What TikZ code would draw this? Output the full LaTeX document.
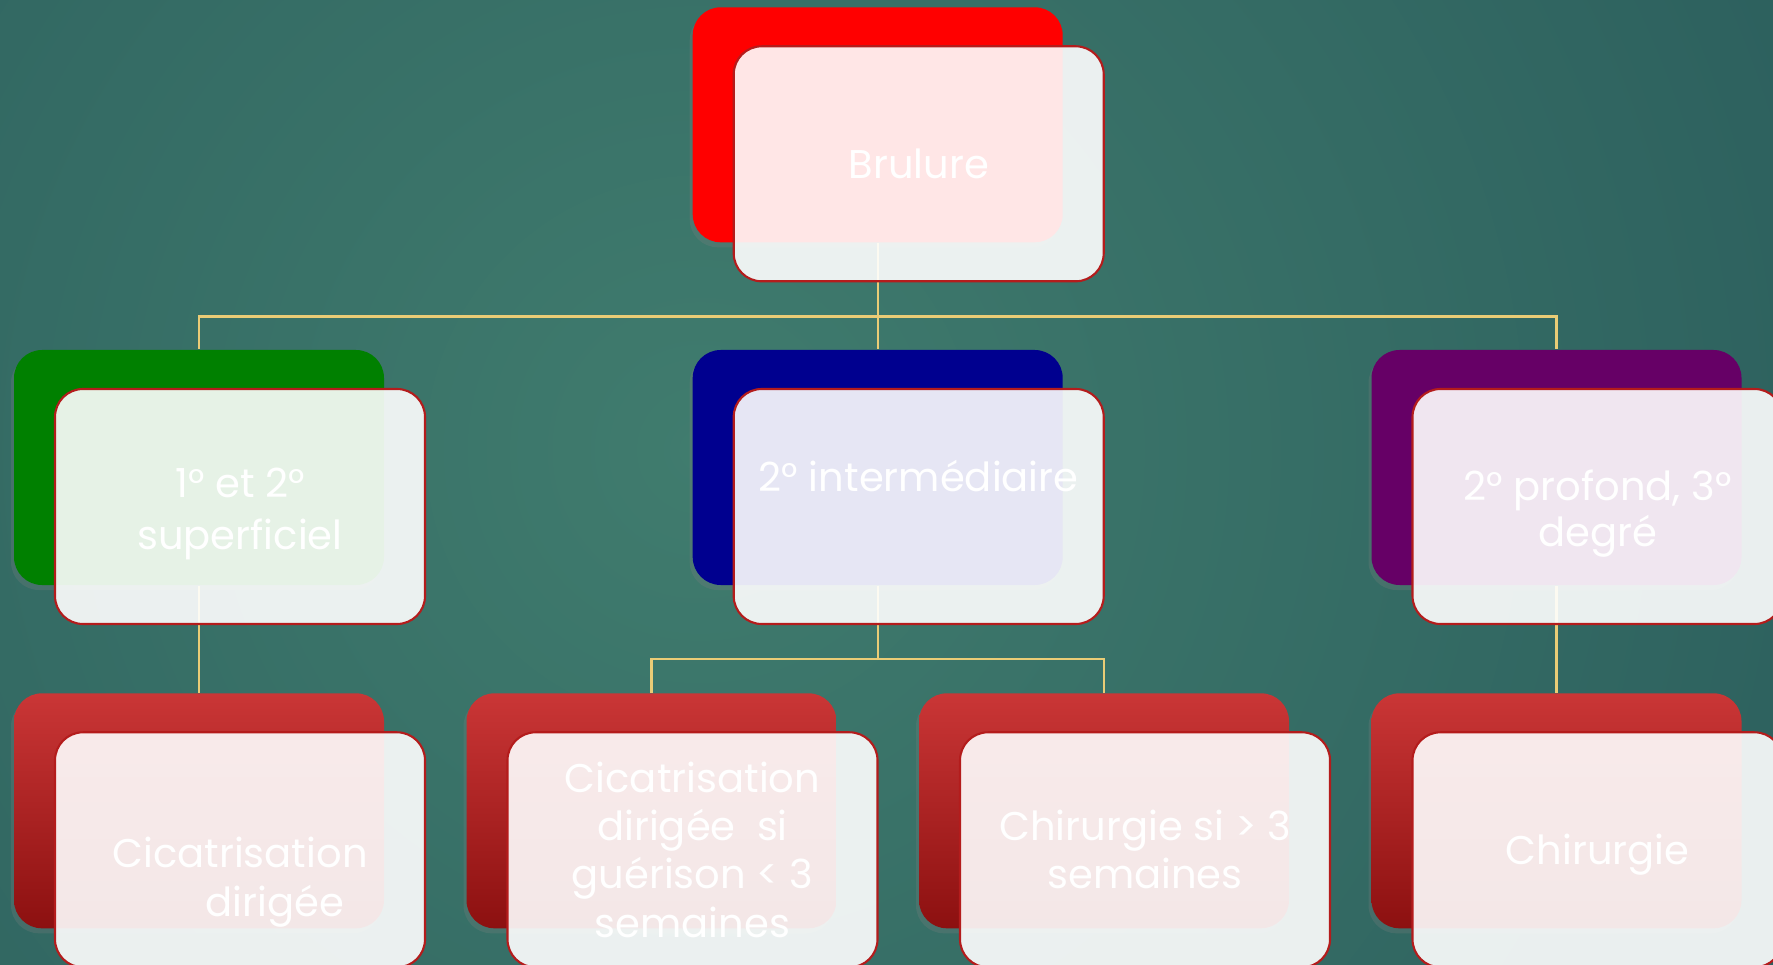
\documentclass[tikz,border=0pt]{standalone}
\usepackage{fontspec}
\setmainfont{Poppins}
\usetikzlibrary{shadows}
\definecolor{bgin}{RGB}{64,124,110}
\definecolor{bgout}{RGB}{28,72,80}
\definecolor{linkcol}{RGB}{234,204,118}
\definecolor{edgered}{RGB}{180,28,28}
\definecolor{grass}{RGB}{0,128,0}
\definecolor{navy}{RGB}{0,0,143}
\definecolor{plum}{RGB}{102,0,102}
\definecolor{leaftop}{RGB}{202,54,54}
\definecolor{leafbot}{RGB}{140,16,16}
\begin{document}
\begin{tikzpicture}[
  back/.style={rounded corners=0.28cm, minimum width=3.7cm, minimum height=2.35cm, inner sep=0pt,
    drop shadow={shadow xshift=-0.03cm, shadow yshift=-0.05cm, opacity=0.25}},
  leafback/.style={back, top color=leaftop, bottom color=leafbot},
  front/.style={draw=edgered, line width=0.6pt, fill=white, fill opacity=0.9, text opacity=1,
    rounded corners=0.28cm, minimum width=3.7cm, minimum height=2.35cm, inner sep=0pt,
    align=center, text=white, font=\fontsize{11.4pt}{13.7pt}\selectfont},
  link/.style={draw=linkcol, line width=0.6pt}
]
\useasboundingbox (0,0) rectangle (17.73,-9.65);
\clip (0,0) rectangle (17.73,-9.65);
\shade[inner color=bgin, outer color=bgout] (7,-4.5) circle (22cm);

% coloured cards behind
\node[back, fill=red] (br) at (8.777,-1.248) {};
\node[back, fill=grass] (sup) at (1.99,-4.675) {};
\node[back, fill=navy] (int) at (8.777,-4.675) {};
\node[back, fill=plum] (pro) at (15.565,-4.675) {};
\node[leafback] (cd) at (1.99,-8.108) {};
\node[leafback] (cs) at (6.515,-8.108) {};
\node[leafback] (cc) at (11.04,-8.108) {};
\node[leafback] (ch) at (15.565,-8.108) {};

\draw[link] (br.south) -- ++(0,-0.735) -| (sup.north);
\draw[link] (br.south) -- (int.north);
\draw[link] (br.south) -- ++(0,-0.735) -| (pro.north);
\draw[link] (sup.south) -- (cd.north);
\draw[link] (int.south) -- ++(0,-0.73) -| (cs.north);
\draw[link] (int.south) -- ++(0,-0.73) -| (cc.north);
\draw[link] (pro.south) -- (ch.north);

% light cards with the text
\node[front] (brf) at ([shift={(0.41,-0.39)}]br.center) {Brulure};
\node[front] (supf) at ([shift={(0.41,-0.39)}]sup.center) {\mbox{}\\[-0.03cm]1° et 2°\\[0.04cm]superficiel};
\node[front] (intf) at ([shift={(0.41,-0.39)}]int.center) {2° intermédiaire\\[0.14cm]\mbox{}};
\node[front] (prof) at ([shift={(0.41,-0.39)}]pro.center) {\mbox{}\\[-0.03cm]2° profond, 3°\\[-0.025cm]degré};
\node[front] (cdf) at ([shift={(0.41,-0.39)}]cd.center) {\mbox{}\\[0.47cm]Cicatrisation\\\hspace*{0.7cm}dirigée};
\node[front] (csf) at ([shift={(0.41,-0.39)}]cs.center) {Cicatrisation\\dirigée\ \ si\\guérison < 3\\semaines};
\node[front] (ccf) at ([shift={(0.41,-0.39)}]cc.center) {Chirurgie si > 3\\semaines};
\node[front] (chf) at ([shift={(0.41,-0.39)}]ch.center) {\mbox{}\\[-0.07cm]Chirurgie};
\end{tikzpicture}
\end{document}
